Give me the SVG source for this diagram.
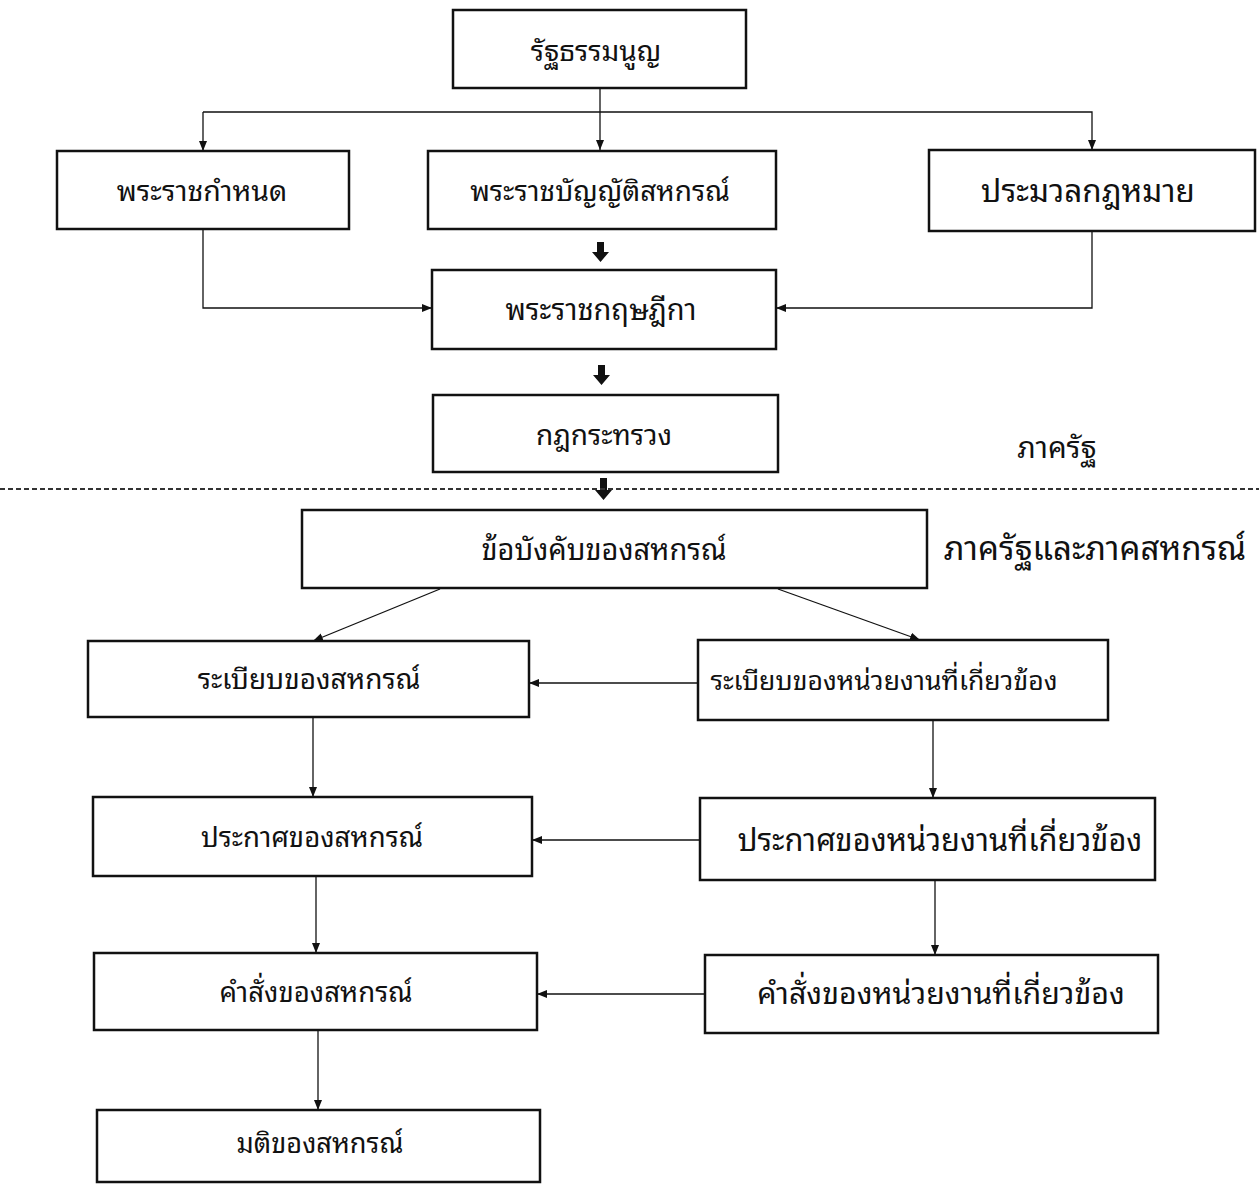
<svg xmlns="http://www.w3.org/2000/svg" width="1259" height="1184" viewBox="0 0 1259 1184">
<style>
.box{fill:#fff;stroke:#111;stroke-width:2.5}
.t{font-family:"Noto Sans Thai Looped","Noto Serif Thai","Noto Sans Thai","Noto Sans","DejaVu Sans",sans-serif;fill:#111;text-anchor:middle}
.c{fill:none;stroke:#111;stroke-width:1.3}
.blk{fill:#111}
</style>
<defs>
<marker id="ah" markerUnits="userSpaceOnUse" markerWidth="10" markerHeight="10" viewBox="0 0 10 10" refX="10" refY="5" orient="auto">
<path d="M0,1 L10,5 L0,9 Z" fill="#111"/>
</marker>
</defs>
<rect width="1259" height="1184" fill="#fff"/>
<g id="connectors">
<line class="c" x1="600" y1="88" x2="600" y2="150" marker-end="url(#ah)"/>
<polyline class="c" points="203,112 1092,112 1092,150" marker-end="url(#ah)"/>
<line class="c" x1="203" y1="112" x2="203" y2="151" marker-end="url(#ah)"/>
<polyline class="c" points="203,229 203,308 432,308" marker-end="url(#ah)"/>
<polyline class="c" points="1092,231 1092,308 776,308" marker-end="url(#ah)"/>
<path class="blk" d="M597,242 h7 v10 h5 l-8.5,10 l-8.5,-10 h5 Z"/>
<path class="blk" d="M598,365 h7 v10 h5 l-8.5,10 l-8.5,-10 h5 Z"/>
<path class="blk" d="M600,478 h7 v12 h5 l-8.5,10 l-8.5,-10 h5 Z"/>
<line x1="0" y1="489" x2="1259" y2="489" stroke="#333" stroke-width="2" stroke-dasharray="5,3"/>
<line class="c" x1="440" y1="589" x2="313" y2="641" marker-end="url(#ah)"/>
<line class="c" x1="778" y1="589" x2="920" y2="640" marker-end="url(#ah)"/>
<line class="c" x1="698" y1="683" x2="529" y2="683" marker-end="url(#ah)"/>
<line class="c" x1="313" y1="717" x2="313" y2="797" marker-end="url(#ah)"/>
<line class="c" x1="933" y1="720" x2="933" y2="798" marker-end="url(#ah)"/>
<line class="c" x1="700" y1="840" x2="532" y2="840" marker-end="url(#ah)"/>
<line class="c" x1="316" y1="876" x2="316" y2="953" marker-end="url(#ah)"/>
<line class="c" x1="935" y1="880" x2="935" y2="955" marker-end="url(#ah)"/>
<line class="c" x1="705" y1="994" x2="537" y2="994" marker-end="url(#ah)"/>
<line class="c" x1="318" y1="1030" x2="318" y2="1110" marker-end="url(#ah)"/>
</g>
<g id="n-constitution"><rect class="box" x="453" y="10" width="293" height="78"/><text class="t" x="596" y="61" style="font-size:28px">รัฐธรรมนูญ</text></g>
<g id="n-emergency-decree"><rect class="box" x="57" y="151" width="292" height="78"/><text class="t" x="202" y="201" style="font-size:28.5px">พระราชกำหนด</text></g>
<g id="n-coop-act"><rect class="box" x="428" y="151" width="348" height="78"/><text class="t" x="600" y="201" style="font-size:28px">พระราชบัญญัติสหกรณ์</text></g>
<g id="n-code"><rect class="box" x="929" y="150" width="326" height="81"/><text class="t" x="1088" y="202" style="font-size:31.5px">ประมวลกฎหมาย</text></g>
<g id="n-royal-decree"><rect class="box" x="432" y="270" width="344" height="79"/><text class="t" x="601" y="320" style="font-size:29px">พระราชกฤษฎีกา</text></g>
<g id="n-ministerial"><rect class="box" x="433" y="395" width="345" height="77"/><text class="t" x="604" y="445" style="font-size:28px">กฎกระทรวง</text></g>
<g id="label-state"><text class="t" x="1057" y="458" style="font-size:29.5px">ภาครัฐ</text></g>
<g id="n-bylaws"><rect class="box" x="302" y="510" width="625" height="78"/><text class="t" x="604" y="560" style="font-size:29px">ข้อบังคับของสหกรณ์</text></g>
<g id="label-state-coop"><text class="t" x="1095" y="560" style="font-size:33px">ภาครัฐและภาคสหกรณ์</text></g>
<g id="n-coop-reg"><rect class="box" x="88" y="641" width="441" height="76"/><text class="t" x="309" y="689" style="font-size:28px">ระเบียบของสหกรณ์</text></g>
<g id="n-agency-reg"><rect class="box" x="698" y="640" width="410" height="80"/><text class="t" x="884" y="690" style="font-size:26.6px">ระเบียบของหน่วยงานที่เกี่ยวข้อง</text></g>
<g id="n-coop-notice"><rect class="box" x="93" y="797" width="439" height="79"/><text class="t" x="312" y="847" style="font-size:27.6px">ประกาศของสหกรณ์</text></g>
<g id="n-agency-notice"><rect class="box" x="700" y="798" width="455" height="82"/><text class="t" x="940" y="851" style="font-size:30.8px">ประกาศของหน่วยงานที่เกี่ยวข้อง</text></g>
<g id="n-coop-order"><rect class="box" x="94" y="953" width="443" height="77"/><text class="t" x="316" y="1002" style="font-size:27.6px">คำสั่งของสหกรณ์</text></g>
<g id="n-agency-order"><rect class="box" x="705" y="955" width="453" height="78"/><text class="t" x="941" y="1004" style="font-size:30.4px">คำสั่งของหน่วยงานที่เกี่ยวข้อง</text></g>
<g id="n-coop-resolution"><rect class="box" x="97" y="1110" width="443" height="72"/><text class="t" x="320" y="1153" style="font-size:27.2px">มติของสหกรณ์</text></g>
</svg>
